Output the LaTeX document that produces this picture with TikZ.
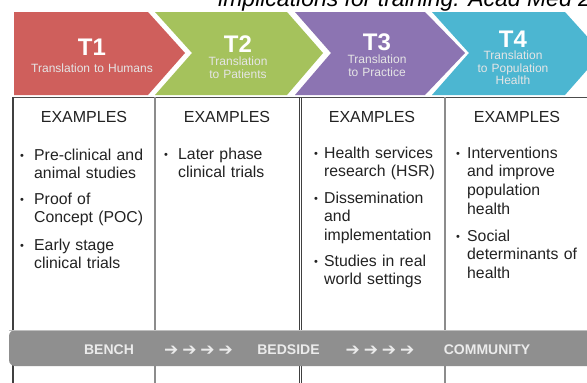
\documentclass[tikz,border=0pt]{standalone}
\usepackage{fontspec}
\setmainfont{Liberation Sans}
\newfontfamily\symfont{DejaVu Sans}
\definecolor{tred}{RGB}{207,95,92}
\definecolor{tgreen}{RGB}{165,194,92}
\definecolor{tpurple}{RGB}{140,116,178}
\definecolor{tcyan}{RGB}{76,182,209}
\definecolor{barg}{RGB}{143,143,143}
\definecolor{txt}{RGB}{34,34,34}
\begin{document}
\begin{tikzpicture}[x=1pt,y=-1pt,
  tlab/.style={font=\fontsize{24}{26}\selectfont\bfseries, text=white, anchor=base, inner sep=0pt},
  tsub/.style={font=\fontsize{12}{13}\selectfont, text=white!90!black, anchor=base, inner sep=0pt, text width=150pt, align=center},
  exhead/.style={font=\fontsize{16}{18.8}\selectfont, text=txt, anchor=base, inner sep=0pt},
  item/.style={font=\fontsize{15.8}{18.8}\selectfont, text=txt, anchor=base west, inner sep=0pt, text width=125pt, align=left},
  bul/.style={font=\fontsize{11}{12}\selectfont, text=txt, anchor=base, inner sep=0pt},
  bartxt/.style={font=\fontsize{14}{16}\selectfont\bfseries, text=white!92!black, anchor=base, inner sep=0pt},
  arrtxt/.style={font=\symfont\fontsize{17}{18}\selectfont, text=white!92!black, anchor=base, inner sep=0pt},
  lightdiv/.style={draw=black!45, line width=2.4pt},
  darkdiv/.style={draw=black!75, line width=1.3pt}
]
\useasboundingbox (0,0) rectangle (587,383);
\clip (0,0) rectangle (587,383);
\fill[white] (0,0) rectangle (587,383);

% title (cropped)
\node[font=\fontsize{23}{26}\selectfont\itshape, text=black, anchor=base west, inner sep=0pt] (title) at (218,6) {implications for training. Acad Med 2010};

% chevrons
\fill[tred] (14,12) -- (148,12) -- (185,53) -- (148,95) -- (14,95) -- cycle;
\fill[tgreen] (155,12) -- (287,12) -- (323,53) -- (287,95) -- (155,95) -- (192,53) -- cycle;
\fill[tpurple] (295,12) -- (425,12) -- (465,53) -- (425,95) -- (295,95) -- (331,53) -- cycle;
\fill[tcyan] (432,12) -- (565,12) -- (602,53) -- (565,95) -- (432,95) -- (469,53) -- cycle;

\node[tlab] (t1) at (92,55.5) {T1};
\node[tsub] (s1) at (92,72.5) {Translation to Humans};
\node[tlab] (t2) at (238,52.5) {T2};
\node[tsub] (s2) at (238,65.5) {Translation\\to Patients};
\node[tlab] (t3) at (377,50.5) {T3};
\node[tsub] (s3) at (377,63) {Translation\\to Practice};
\node[tlab] (t4) at (513,47) {T4};
\node[tsub, font=\fontsize{12}{12.5}\selectfont] (s4) at (513,59.5) {Translation\\to Population\\Health};

% table lines
\draw[draw=black!70, line width=1pt] (13,97) -- (587,97);
\draw[darkdiv] (13,97) -- (13,383);
\draw[lightdiv] (155,97) -- (155,383);
\draw[draw=black!75, line width=0.9pt] (299,97) -- (299,383);
\draw[draw=black!75, line width=0.9pt] (301.5,97) -- (301.5,383);
\draw[lightdiv] (445,97) -- (445,383);

% column headers
\node[exhead] (e1) at (84,122) {EXAMPLES};
\node[exhead] (e2) at (227,122) {EXAMPLES};
\node[exhead] (e3) at (372,122) {EXAMPLES};
\node[exhead] (e4) at (517,122) {EXAMPLES};

% column 1
\node[bul] (b1a) at (22,159) {\textbullet};
\node[item] (i1a) at (34,160) {Pre-clinical and\\animal studies};
\node[bul] (b1b) at (22,203) {\textbullet};
\node[item] (i1b) at (34,204) {Proof of\\Concept (POC)};
\node[bul] (b1c) at (22,249) {\textbullet};
\node[item] (i1c) at (34,250) {Early stage\\clinical trials};

% column 2
\node[bul] (b2a) at (166,158) {\textbullet};
\node[item] (i2a) at (178,159) {Later phase\\clinical trials};

% column 3
\node[bul] (b3a) at (316,157) {\textbullet};
\node[item] (i3a) at (324,158) {Health services\\research (HSR)};
\node[bul] (b3b) at (316,202) {\textbullet};
\node[item] (i3b) at (324,203) {Dissemination\\and\\implementation};
\node[bul] (b3c) at (316,265) {\textbullet};
\node[item] (i3c) at (324,266) {Studies in real\\world settings};

% column 4
\node[bul] (b4a) at (458,157) {\textbullet};
\node[item] (i4a) at (467,158) {Interventions\\and improve\\population\\health};
\node[bul] (b4b) at (458,240) {\textbullet};
\node[item] (i4b) at (467,241) {Social\\determinants of\\health};

% bottom bar
\fill[barg, rounded corners=6pt] (9,330) rectangle (600,366);
\draw[black!25, line width=1pt] (9,330.5) -- (587,330.5);
\node[bartxt] (bench) at (109,354) {BENCH};
\node[arrtxt] (arr1) at (198.5,355) {➔\hspace{4pt}➔\hspace{4pt}➔\hspace{4pt}➔};
\node[bartxt] (bedside) at (288.5,354) {BEDSIDE};
\node[arrtxt] (arr2) at (380,355) {➔\hspace{4pt}➔\hspace{4pt}➔\hspace{4pt}➔};
\node[bartxt] (community) at (487,354) {COMMUNITY};
\end{tikzpicture}
\end{document}
